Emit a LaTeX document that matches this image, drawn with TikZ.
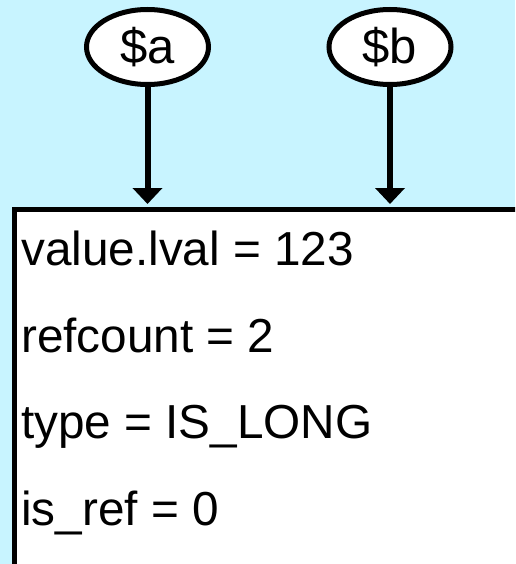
\documentclass[tikz,border=0pt]{standalone}
\usepackage{fontspec}
\setmainfont{Liberation Sans}
\usetikzlibrary{arrows.meta,shapes.geometric}
\definecolor{bgblue}{RGB}{200,244,255}
\tikzset{
  varnode/.style={ellipse, draw=black, line width=5pt, fill=white,
    minimum width=122pt, minimum height=75pt, inner sep=0pt,
    font=\fontsize{49pt}{51pt}\selectfont},
  refarrow/.style={line width=6pt, -{Triangle[width=29pt,length=16pt]}},
  zvalbox/.style={draw=black, line width=5pt, fill=white, rectangle,
    anchor=north west, minimum width=540pt, minimum height=400pt, inner sep=0pt},
  fieldtext/.style={anchor=base west, inner sep=0pt,
    font=\fontsize{47.7pt}{50pt}\selectfont}
}
\begin{document}
\begin{tikzpicture}[x=1pt,y=-1pt]
\useasboundingbox (0,0) rectangle (515,564);
\clip (0,0) rectangle (515,564);
\fill[bgblue] (0,0) rectangle (515,564);
\node[zvalbox] (zval) at (12,206.5) {};
\node[varnode] (a) at (147.5,47) {\$a};
\node[varnode] (b) at (390,47) {\$b};
\coordinate (ta) at (a |- zval.north);
\coordinate (tb) at (b |- zval.north);
\draw[refarrow, shorten >=2.5pt] (a) -- (ta);
\draw[refarrow, shorten >=2.5pt] (b) -- (tb);
\node[fieldtext] (f1) at (21,265) {value.lval = 123};
\node[fieldtext] (f2) at (21,352) {refcount = 2};
\node[fieldtext] (f3) at (21,438.5) {type = IS\_LONG};
\node[fieldtext] (f4) at (21,525) {is\_ref = 0};
\end{tikzpicture}
\end{document}
